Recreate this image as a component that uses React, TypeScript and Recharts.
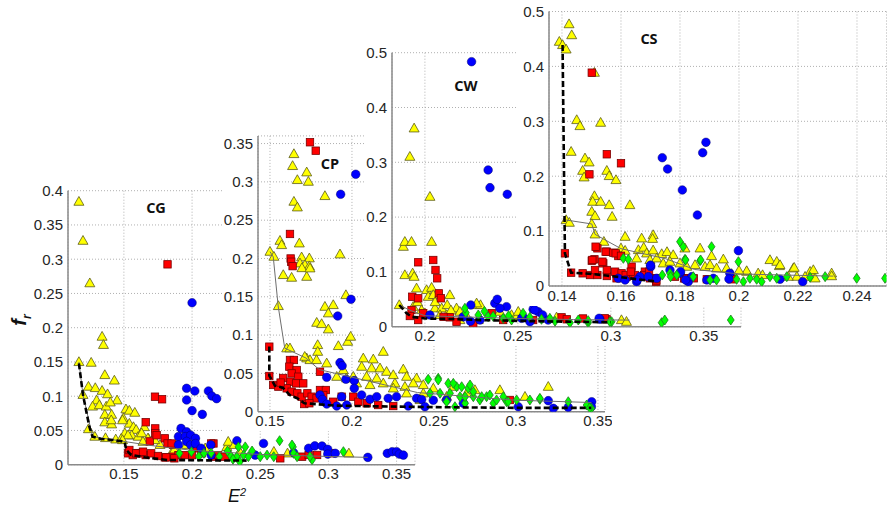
import React from 'react';
import { ScatterChart, Scatter, XAxis, YAxis, CartesianGrid } from 'recharts';

type Pt = [number, number];

// ---------- CG ----------
const cgYellow: Pt[] = [
  [0.117, 0.384], [0.120, 0.327], [0.125, 0.265], [0.134, 0.187], [0.135, 0.175], [0.117, 0.150],
  [0.126, 0.149], [0.136, 0.131], [0.143, 0.123], [0.120, 0.102], [0.124, 0.114], [0.129, 0.112],
  [0.134, 0.108], [0.138, 0.103], [0.145, 0.094], [0.130, 0.094], [0.127, 0.085], [0.132, 0.087],
  [0.137, 0.085], [0.140, 0.091], [0.136, 0.073], [0.141, 0.073], [0.136, 0.062], [0.141, 0.059],
  [0.124, 0.052], [0.1515, 0.081], [0.154, 0.079], [0.158, 0.076], [0.1495, 0.068], [0.154, 0.060],
  [0.157, 0.055], [0.159, 0.051], [0.165, 0.055], [0.1507, 0.046], [0.1557, 0.043], [0.1605, 0.041],
  [0.163, 0.046], [0.168, 0.038], [0.1765, 0.029], [0.186, 0.021], [0.196, 0.029], [0.2096, 0.024],
  [0.2255, 0.026], [0.235, 0.019], [0.260, 0.019], [0.270, 0.0166], [0.315, 0.0166], [0.1287, 0.041],
  [0.1365, 0.039], [0.144, 0.037], [0.148, 0.038], [0.1407, 0.065], [0.149, 0.065], [0.153, 0.043],
  [0.1676, 0.0385], [0.1726, 0.036], [0.164, 0.0336], [0.149, 0.036], [0.187, 0.0215], [0.2265, 0.0336],
  [0.231, 0.029],
];
const cgRed: Pt[] = [
  [0.182, 0.2925], [0.1728, 0.0993], [0.178, 0.0955], [0.166, 0.062], [0.173, 0.053], [0.173, 0.046],
  [0.180, 0.0385], [0.182, 0.031], [0.186, 0.029], [0.202, 0.024], [0.207, 0.020], [0.2157, 0.031],
  [0.153, 0.0166], [0.1565, 0.014], [0.160, 0.017], [0.163, 0.0166], [0.166, 0.014], [0.180, 0.0107],
  [0.186, 0.0117], [0.190, 0.014], [0.200, 0.014], [0.2157, 0.0117], [0.2647, 0.0093], [0.2807, 0.0117],
  [0.2855, 0.0142], [0.2917, 0.0142], [0.3015, 0.0166], [0.169, 0.034], [0.185, 0.031], [0.154, 0.0215],
  [0.159, 0.0166], [0.164, 0.019], [0.170, 0.0166], [0.175, 0.0127], [0.181, 0.0107], [0.187, 0.0093],
  [0.1946, 0.014], [0.207, 0.0166], [0.214, 0.031], [0.219, 0.014], [0.224, 0.0117], [0.174, 0.043],
];
const cgBlue: Pt[] = [
  [0.200, 0.2365], [0.196, 0.1115], [0.202, 0.1076], [0.196, 0.0945], [0.212, 0.1076], [0.2145, 0.1003],
  [0.218, 0.0964], [0.200, 0.079], [0.2075, 0.0735], [0.1919, 0.053], [0.196, 0.048], [0.190, 0.041],
  [0.195, 0.041], [0.199, 0.043], [0.2025, 0.0385], [0.190, 0.029], [0.196, 0.034], [0.199, 0.029],
  [0.2025, 0.031], [0.2066, 0.024], [0.2137, 0.029], [0.214, 0.014], [0.2329, 0.035], [0.2463, 0.014],
  [0.2524, 0.031], [0.2745, 0.0175], [0.2855, 0.024], [0.290, 0.0275], [0.2953, 0.0273], [0.2995, 0.0225],
  [0.2995, 0.0155], [0.305, 0.0166], [0.3289, 0.0107], [0.3432, 0.0166], [0.3468, 0.019], [0.350, 0.019],
  [0.352, 0.0155], [0.355, 0.014],
];
const cgGreen: Pt[] = [
  [0.2642, 0.035], [0.1907, 0.0166], [0.1995, 0.019], [0.2087, 0.0166], [0.214, 0.017], [0.234, 0.026],
  [0.239, 0.026], [0.2328, 0.0117], [0.2377, 0.014], [0.2413, 0.0117], [0.235, 0.0044], [0.250, 0.0117],
  [0.255, 0.014], [0.2599, 0.0117], [0.274, 0.026], [0.2745, 0.0166], [0.277, 0.0117], [0.288, 0.0073],
  [0.311, 0.019], [0.2733, 0.0288], [0.2865, 0.012], [0.228, 0.014], [0.244, 0.020], [0.226, 0.020],
  [0.230, 0.008], [0.220, 0.012], [0.205, 0.012],
];
const cgFront: Pt[] = [
  [0.117, 0.148], [0.120, 0.102], [0.1222, 0.080], [0.1247, 0.055], [0.127, 0.041], [0.1333, 0.0375],
  [0.142, 0.036], [0.1505, 0.0336], [0.1517, 0.0215], [0.1554, 0.0142], [0.165, 0.0108], [0.182, 0.0069],
  [0.200, 0.0065], [0.240, 0.006],
];
const cgThin: Pt[] = [
  [0.117, 0.150], [0.120, 0.102], [0.127, 0.041], [0.150, 0.034], [0.170, 0.028], [0.200, 0.021],
  [0.250, 0.015], [0.300, 0.012], [0.3289, 0.0107],
];

// ---------- CP ----------
const cpYellow: Pt[] = [
  [0.1646, 0.3364], [0.1638, 0.3208], [0.1667, 0.3025], [0.1724, 0.3125], [0.1734, 0.3003], [0.1835, 0.2816],
  [0.1646, 0.2742], [0.1667, 0.2668], [0.1561, 0.2232], [0.1571, 0.2176], [0.1679, 0.2198], [0.150, 0.2089],
  [0.1524, 0.2024], [0.1581, 0.1785], [0.1632, 0.175], [0.1693, 0.2016], [0.174, 0.2003], [0.1683, 0.1937],
  [0.1713, 0.1915], [0.174, 0.190], [0.1695, 0.1875], [0.1724, 0.1762], [0.1744, 0.1872], [0.1927, 0.2055],
  [0.1963, 0.1523], [0.1551, 0.138], [0.1835, 0.1371], [0.1886, 0.1393], [0.1856, 0.1285], [0.1785, 0.1162],
  [0.1815, 0.1145], [0.1856, 0.1076], [0.1917, 0.0858], [0.1974, 0.0914], [0.1992, 0.098], [0.1602, 0.0828],
  [0.1622, 0.0828], [0.1791, 0.0871], [0.1791, 0.0783], [0.1724, 0.0697], [0.1744, 0.0675], [0.1784, 0.0675],
  [0.1846, 0.0632], [0.1907, 0.0457], [0.2069, 0.0697], [0.213, 0.0684], [0.2191, 0.0783], [0.2059, 0.0588],
  [0.212, 0.0567], [0.2171, 0.0567], [0.2089, 0.0457], [0.2151, 0.0436], [0.2211, 0.0522], [0.2252, 0.0479],
  [0.2313, 0.0553], [0.2333, 0.0457], [0.2394, 0.0436], [0.2262, 0.0371], [0.2323, 0.0326], [0.2374, 0.0371],
  [0.2435, 0.0349], [0.2496, 0.0305], [0.2618, 0.0326], [0.2699, 0.024], [0.275, 0.0283], [0.2902, 0.0283],
  [0.3055, 0.0196], [0.3197, 0.0326], [0.2577, 0.0196], [0.2435, 0.024], [0.2415, 0.0153], [0.2333, 0.024],
  [0.2252, 0.0305], [0.2191, 0.0371], [0.2008, 0.0457], [0.1947, 0.0544], [0.2028, 0.0371], [0.211, 0.0349],
  [0.1967, 0.0436], [0.1712, 0.0718],
];
const cpRed: Pt[] = [
  [0.1744, 0.3517], [0.1779, 0.3407], [0.1622, 0.232], [0.1626, 0.200], [0.163, 0.1958], [0.1638, 0.190],
  [0.1496, 0.0849], [0.1496, 0.0466], [0.152, 0.0349], [0.1551, 0.0327], [0.1622, 0.0675], [0.1646, 0.0675],
  [0.1618, 0.0588], [0.1663, 0.0544], [0.1632, 0.050], [0.1673, 0.0457], [0.1622, 0.0392], [0.1659, 0.037],
  [0.1703, 0.037], [0.1602, 0.0305], [0.1632, 0.0261], [0.1667, 0.024], [0.1693, 0.0196], [0.1728, 0.024],
  [0.1754, 0.0196], [0.1784, 0.0174], [0.1805, 0.0283], [0.1841, 0.0283], [0.1825, 0.0218], [0.1709, 0.0100],
  [0.174, 0.011], [0.1805, 0.0522], [0.1886, 0.013], [0.1937, 0.0196], [0.2008, 0.0196], [0.2039, 0.013],
  [0.209, 0.011], [0.216, 0.0087], [0.2252, 0.0074], [0.2963, 0.0153], [0.158, 0.044], [0.1565, 0.038],
];
const cpBlue: Pt[] = [
  [0.2023, 0.3099], [0.1931, 0.2838], [0.1994, 0.1467], [0.1913, 0.1249], [0.1927, 0.064], [0.194, 0.060],
  [0.1846, 0.0449], [0.1963, 0.0423], [0.2014, 0.0405], [0.2014, 0.0305], [0.1805, 0.0218], [0.182, 0.016],
  [0.1846, 0.010], [0.1907, 0.0074], [0.1937, 0.0196], [0.1968, 0.0087], [0.2059, 0.0218], [0.211, 0.0162],
  [0.2151, 0.0196], [0.2221, 0.0175], [0.2272, 0.0196], [0.2343, 0.0074], [0.2394, 0.0175], [0.2425, 0.016],
  [0.2445, 0.0065], [0.2496, 0.015], [0.3197, 0.0144], [0.3462, 0.013], [0.346, 0.0065], [0.3228, 0.0044],
  [0.3319, 0.0057], [0.3014, 0.0065], [0.2679, 0.011], [0.2577, 0.0153],
];
const cpGreen: Pt[] = [
  [0.2465, 0.0423], [0.2526, 0.0436], [0.2587, 0.037], [0.2638, 0.0326], [0.2476, 0.024], [0.2537, 0.024],
  [0.2598, 0.024], [0.2659, 0.0196], [0.2709, 0.0305], [0.274, 0.0196], [0.278, 0.0153], [0.2821, 0.0196],
  [0.2862, 0.011], [0.2943, 0.013], [0.3146, 0.0162], [0.3319, 0.013], [0.346, 0.0044], [0.2577, 0.013],
  [0.269, 0.011], [0.2628, 0.0065], [0.2526, 0.0414], [0.2618, 0.037], [0.2669, 0.0326], [0.272, 0.0349],
  [0.274, 0.0261], [0.269, 0.0196], [0.2791, 0.0196], [0.2841, 0.0218], [0.2882, 0.0153], [0.2923, 0.0196],
  [0.2953, 0.013], [0.3004, 0.0153], [0.3085, 0.0153], [0.3146, 0.0174], [0.3431, 0.0087], [0.345, 0.005],
];
const cpFront: Pt[] = [
  [0.1496, 0.085], [0.1496, 0.047], [0.153, 0.034], [0.158, 0.031], [0.162, 0.022], [0.167, 0.017],
  [0.171, 0.011], [0.190, 0.008], [0.215, 0.007], [0.250, 0.006], [0.300, 0.005], [0.346, 0.005],
];
const cpThin: Pt[] = [
  [0.150, 0.209], [0.152, 0.202], [0.155, 0.138], [0.159, 0.083], [0.172, 0.070], [0.180, 0.055],
  [0.200, 0.045], [0.220, 0.035], [0.240, 0.025], [0.270, 0.020], [0.300, 0.015], [0.346, 0.012],
];

// ---------- CW ----------
const cwYellow: Pt[] = [
  [0.1942, 0.362], [0.1919, 0.3102], [0.2027, 0.2372], [0.1884, 0.146], [0.1892, 0.155], [0.1928, 0.155],
  [0.2036, 0.155], [0.1892, 0.0943], [0.1934, 0.0974], [0.1942, 0.0912], [0.1955, 0.070], [0.2009, 0.067],
  [0.2036, 0.0712], [0.2018, 0.0547], [0.2045, 0.058], [0.2134, 0.0578], [0.1862, 0.0396], [0.1937, 0.0365],
  [0.1982, 0.0304], [0.200, 0.0245], [0.2054, 0.0336], [0.209, 0.0336], [0.212, 0.0396], [0.217, 0.0336],
  [0.2188, 0.0274], [0.2278, 0.0396], [0.2299, 0.0396], [0.2081, 0.0214], [0.2117, 0.0214], [0.2188, 0.0122],
  [0.2287, 0.0122], [0.2403, 0.0274], [0.2466, 0.0214], [0.2493, 0.0183], [0.2708, 0.0171], [0.3057, 0.0122],
  [0.3084, 0.0091], [0.2278, 0.0427], [0.2502, 0.0274], [0.196, 0.045], [0.2055, 0.045], [0.214, 0.030],
  [0.222, 0.022],
];
const cwRed: Pt[] = [
  [0.1964, 0.1175], [0.2045, 0.1217], [0.2057, 0.1035], [0.2066, 0.0883], [0.1932, 0.0547], [0.1964, 0.0518],
  [0.2075, 0.0609], [0.2086, 0.0518], [0.1928, 0.0304], [0.1919, 0.0195], [0.1964, 0.0122], [0.1991, 0.0245],
  [0.2134, 0.0171], [0.217, 0.0091], [0.226, 0.0062], [0.2421, 0.0122], [0.2582, 0.0122], [0.2735, 0.0171],
  [0.2763, 0.0135], [0.2977, 0.0135], [0.285, 0.015], [0.2359, 0.0245], [0.210, 0.018], [0.2968, 0.0153],
];
const cwBlue: Pt[] = [
  [0.2251, 0.4836], [0.234, 0.286], [0.235, 0.2537], [0.2443, 0.2416], [0.2247, 0.0396], [0.2376, 0.0427],
  [0.2389, 0.050], [0.2439, 0.0365], [0.2403, 0.0336], [0.2582, 0.0318], [0.2609, 0.0274], [0.2633, 0.0214],
  [0.2528, 0.0183], [0.2565, 0.0091], [0.2663, 0.0122], [0.2941, 0.0135], [0.2027, 0.0214], [0.2245, 0.010],
  [0.2591, 0.0305], [0.252, 0.0153], [0.2206, 0.018], [0.2296, 0.0122], [0.2937, 0.0153],
];
const cwGreen: Pt[] = [
  [0.222, 0.0256], [0.2287, 0.0214], [0.234, 0.0183], [0.2367, 0.019], [0.2421, 0.0153], [0.2466, 0.0122],
  [0.2528, 0.0245], [0.2564, 0.0171], [0.2627, 0.0135], [0.2672, 0.0153], [0.278, 0.0073], [0.2825, 0.0122],
  [0.2878, 0.0073], [0.3004, 0.0091], [0.3273, 0.0073], [0.329, 0.0122], [0.3645, 0.0122], [0.2215, 0.0336],
  [0.2878, 0.011], [0.2995, 0.0091], [0.232, 0.028], [0.245, 0.020], [0.270, 0.010],
];
const cwFront: Pt[] = [
  [0.1862, 0.0396], [0.190, 0.025], [0.193, 0.018], [0.200, 0.015], [0.215, 0.014], [0.230, 0.012],
  [0.260, 0.010], [0.300, 0.008],
];
const cwThin: Pt[] = [
  [0.1862, 0.0396], [0.192, 0.030], [0.200, 0.020], [0.220, 0.018], [0.250, 0.015], [0.280, 0.013],
  [0.310, 0.012],
];

// ---------- CS ----------
const csYellow: Pt[] = [
  [0.1391, 0.445], [0.1402, 0.439], [0.1414, 0.431], [0.1424, 0.477], [0.1433, 0.457], [0.151, 0.3886],
  [0.145, 0.3024], [0.1461, 0.2914], [0.1531, 0.2975], [0.1431, 0.2446], [0.1478, 0.2326], [0.1492, 0.2253],
  [0.147, 0.210], [0.1475, 0.198], [0.1552, 0.210], [0.156, 0.2004], [0.1583, 0.1931], [0.151, 0.1639],
  [0.1504, 0.1536], [0.1531, 0.1536], [0.156, 0.1475], [0.163, 0.1475], [0.1501, 0.1354], [0.1512, 0.1275],
  [0.157, 0.1263], [0.1414, 0.1202], [0.1425, 0.1154], [0.1501, 0.113], [0.1512, 0.0941], [0.1542, 0.0807],
  [0.1614, 0.0898], [0.167, 0.0868], [0.1709, 0.0929], [0.1707, 0.086], [0.160, 0.0686], [0.1614, 0.0644],
  [0.1659, 0.0656], [0.1677, 0.070], [0.1687, 0.0595], [0.1709, 0.065], [0.1738, 0.0583], [0.1756, 0.062],
  [0.1777, 0.0565], [0.1817, 0.0686], [0.1868, 0.0686], [0.1907, 0.0546], [0.1947, 0.0486], [0.1653, 0.0504],
  [0.1698, 0.0474], [0.1721, 0.0504], [0.1743, 0.0413], [0.1766, 0.0443], [0.180, 0.0413], [0.1823, 0.0352],
  [0.1851, 0.0383], [0.1885, 0.0352], [0.1902, 0.0383], [0.1924, 0.0322], [0.1958, 0.0322], [0.2026, 0.0261],
  [0.2065, 0.0231], [0.2105, 0.0474], [0.2128, 0.0443], [0.2137, 0.0364], [0.2184, 0.0322], [0.2241, 0.0261],
  [0.2252, 0.0291], [0.2314, 0.0231], [0.2314, 0.018], [0.2224, 0.017], [0.2196, 0.017], [0.2167, 0.017],
  [0.2258, 0.014], [0.2026, 0.0273], [0.2139, 0.0383], [0.2187, 0.0334], [0.1975, 0.022], [0.200, 0.028],
  [0.208, 0.020],
];
const csRed: Pt[] = [
  [0.1501, 0.3886], [0.1552, 0.2399], [0.160, 0.2235], [0.1493, 0.2034], [0.141, 0.0595], [0.1431, 0.0243],
  [0.147, 0.0231], [0.1495, 0.020], [0.152, 0.020], [0.1552, 0.0182], [0.1585, 0.014], [0.152, 0.0686],
  [0.1501, 0.046], [0.151, 0.0486], [0.154, 0.0413], [0.1552, 0.0625], [0.1574, 0.0607], [0.1591, 0.0546],
  [0.1512, 0.0291], [0.1552, 0.0291], [0.158, 0.0261], [0.1602, 0.0231], [0.1619, 0.017], [0.1636, 0.0352],
  [0.1647, 0.020], [0.1676, 0.017], [0.1681, 0.0261], [0.1698, 0.014], [0.1719, 0.0078], [0.172, 0.010],
  [0.1783, 0.017], [0.1817, 0.014], [0.1891, 0.0122], [0.1975, 0.0122], [0.1514, 0.0716], [0.1548, 0.0625],
  [0.1503, 0.0474], [0.1537, 0.0443], [0.1582, 0.0595], [0.160, 0.055], [0.1616, 0.020], [0.1633, 0.0261],
  [0.1678, 0.020], [0.1695, 0.026], [0.1718, 0.014], [0.1814, 0.014], [0.1847, 0.014],
];
const csBlue: Pt[] = [
  [0.174, 0.2337], [0.1758, 0.2131], [0.1808, 0.1749], [0.1888, 0.2617], [0.1877, 0.2428], [0.1859, 0.1293],
  [0.1998, 0.0644], [0.1701, 0.0352], [0.1591, 0.014], [0.1614, 0.0109], [0.1653, 0.0078], [0.1664, 0.017],
  [0.1693, 0.017], [0.1721, 0.014], [0.1766, 0.0291], [0.180, 0.0231], [0.1828, 0.0078], [0.184, 0.017],
  [0.1913, 0.014], [0.1969, 0.0231], [0.2139, 0.0122], [0.2216, 0.0078], [0.1655, 0.011], [0.170, 0.038],
  [0.1802, 0.026], [0.1819, 0.011], [0.1891, 0.011], [0.1966, 0.0128],
];
const csGreen: Pt[] = [
  [0.180, 0.0807], [0.1811, 0.0716], [0.1817, 0.0486], [0.1907, 0.0716], [0.1998, 0.0443], [0.1868, 0.046],
  [0.1608, 0.0504], [0.1625, 0.0486], [0.1766, 0.0231], [0.1789, 0.020], [0.1845, 0.017], [0.1902, 0.0109],
  [0.1924, 0.0109], [0.1992, 0.0122], [0.2015, 0.0078], [0.2037, 0.014], [0.206, 0.0122], [0.2077, 0.0078],
  [0.2105, 0.017], [0.2128, 0.014], [0.2162, 0.017], [0.2241, 0.0158], [0.2292, 0.017], [0.2399, 0.014],
  [0.2495, 0.014], [0.174, 0.020], [0.1768, 0.017], [0.187, 0.0474], [0.1819, 0.0474],
];
const csFront: Pt[] = [
  [0.1402, 0.439], [0.1406, 0.250], [0.141, 0.0595], [0.1431, 0.0243], [0.150, 0.022], [0.155, 0.019],
  [0.160, 0.016], [0.166, 0.012], [0.172, 0.008],
];
const csThin: Pt[] = [
  [0.1414, 0.1202], [0.1501, 0.113], [0.1512, 0.0941], [0.160, 0.068], [0.175, 0.050], [0.185, 0.030],
  [0.200, 0.022], [0.215, 0.020], [0.232, 0.018],
];

// tick values
const cgXTicks = [0.15, 0.2, 0.25, 0.3, 0.35];
const cgYTicks = [0, 0.05, 0.1, 0.15, 0.2, 0.25, 0.3, 0.35, 0.4];
const cpXTicks = [0.15, 0.2, 0.25, 0.3, 0.35];
const cpYTicks = [0, 0.05, 0.1, 0.15, 0.2, 0.25, 0.3, 0.35];
const cwXTicks = [0.2, 0.25, 0.3, 0.35];
const cwYTicks = [0, 0.1, 0.2, 0.3, 0.4, 0.5];
const csXTicks = [0.14, 0.16, 0.18, 0.2, 0.22, 0.24];
const csYTicks = [0, 0.1, 0.2, 0.3, 0.4, 0.5];

const toXY = (pts: Pt[]) => pts.map(([x, y]) => ({ x, y }));
const fmt = (v: number) => String(+v.toFixed(3));

const Tri = (p: any) => (
  <polygon
    points={`${p.cx},${p.cy - 5.2} ${p.cx - 5},${p.cy + 3.6} ${p.cx + 5},${p.cy + 3.6}`}
    fill="#ffff00" stroke="#5c5c1a" strokeWidth={0.8}
  />
);
const Sq = (p: any) => (
  <rect x={p.cx - 3.7} y={p.cy - 3.7} width={7.4} height={7.4} fill="#ff0000" stroke="#7a0000" strokeWidth={0.8} />
);
const Dot = (p: any) => <circle cx={p.cx} cy={p.cy} r={4.3} fill="#0000ff" stroke="#00006e" strokeWidth={0.5} />;
const Dia = (p: any) => (
  <polygon
    points={`${p.cx},${p.cy - 5} ${p.cx + 3.4},${p.cy} ${p.cx},${p.cy + 5} ${p.cx - 3.4},${p.cy}`}
    fill="#00ff00" stroke="#1f7a1f" strokeWidth={0.8}
  />
);
const NoMark = () => <g />;

const tickStyle = { fontFamily: '"Liberation Sans", Arial, sans-serif', fontSize: 15, fill: '#262626' };
const axisStyle = { stroke: '#8a8a8a', strokeWidth: 1.5 };

type Box = { l: number; t: number; r: number; b: number };

interface PanelProps {
  box: Box;
  plot: Box;
  xDomain: [number, number];
  yDomain: [number, number];
  xTicks: number[];
  yTicks: number[];
  yellow: Pt[];
  red: Pt[];
  blue: Pt[];
  green: Pt[];
  front: Pt[];
  thin: Pt[];
  title: string;
  titleAt: [number, number];
}

function Panel(props: PanelProps) {
  const { box, plot } = props;
  const w = box.r - box.l;
  const h = box.b - box.t;
  return (
    <div style={{ position: 'absolute', left: box.l, top: box.t, width: w, height: h, background: '#fff' }}>
      <ScatterChart
        width={w}
        height={h}
        margin={{ top: plot.t - box.t, right: box.r - plot.r, bottom: 0, left: 0 }}
      >
        <CartesianGrid stroke="#b0b0b0" strokeDasharray="1 2" />
        <XAxis
          type="number" dataKey="x" domain={props.xDomain} ticks={props.xTicks} allowDataOverflow
          height={box.b - plot.b} interval={0} tickLine={false} tickSize={0} tickMargin={4}
          axisLine={axisStyle} tick={tickStyle} tickFormatter={fmt}
        />
        <YAxis
          type="number" dataKey="y" domain={props.yDomain} ticks={props.yTicks} allowDataOverflow
          width={plot.l - box.l} interval={0} tickLine={false} tickSize={0} tickMargin={5}
          axisLine={axisStyle} tick={tickStyle} tickFormatter={fmt}
        />
        <Scatter data={toXY(props.yellow)} shape={Tri} isAnimationActive={false} />
        <Scatter data={toXY(props.red)} shape={Sq} isAnimationActive={false} />
        <Scatter data={toXY(props.blue)} shape={Dot} isAnimationActive={false} />
        <Scatter data={toXY(props.green)} shape={Dia} isAnimationActive={false} />
        <Scatter
          data={toXY(props.thin)} shape={NoMark} isAnimationActive={false}
          line={{ stroke: '#6e6e6e', strokeWidth: 1 }}
        />
        <Scatter
          data={toXY(props.front)} shape={NoMark} isAnimationActive={false}
          line={{ stroke: '#000', strokeWidth: 2.6, strokeDasharray: '6 3' }}
        />
      </ScatterChart>
      <div
        style={{
          position: 'absolute', left: props.titleAt[0] - box.l - 30, top: props.titleAt[1] - box.t - 10,
          width: 60, textAlign: 'center', lineHeight: '20px',
          fontFamily: '"Open Sans", sans-serif', fontWeight: 700, fontSize: 14.5, color: '#111',
        }}
      >
        {props.title}
      </div>
    </div>
  );
}

export default function App() {
  return (
    <div style={{ position: 'absolute', left: 0, top: 0, width: 891, height: 506, background: '#fff', overflow: 'hidden' }}>
      <Panel
        box={{ l: 0, t: 172, r: 430, b: 485 }} plot={{ l: 68, t: 190.7, r: 415, b: 464.7 }}
        xDomain={[0.109, 0.3635]} yDomain={[0, 0.4]} xTicks={cgXTicks} yTicks={cgYTicks}
        yellow={cgYellow} red={cgRed} blue={cgBlue} green={cgGreen} front={cgFront} thin={cgThin}
        title="CG" titleAt={[156, 208]}
      />
      <div
        style={{
          position: 'absolute', left: 19 - 15, top: 320 - 12, width: 30, height: 24,
          transform: 'rotate(-90deg)', textAlign: 'center', lineHeight: '24px',
          fontFamily: '"Liberation Sans", Arial, sans-serif', fontStyle: 'italic', fontWeight: 700, fontSize: 20, color: '#111',
        }}
      >
        f<sub style={{ fontSize: 12 }}>r</sub>
      </div>
      <div
        style={{
          position: 'absolute', left: 218, top: 486, width: 38, height: 20,
          textAlign: 'center', lineHeight: '20px',
          fontFamily: '"Liberation Sans", Arial, sans-serif', fontStyle: 'italic', fontSize: 18, color: '#111',
        }}
      >
        E<span style={{ fontSize: 11, verticalAlign: 'top', lineHeight: '12px' }}>2</span>
      </div>
      <Panel
        box={{ l: 222, t: 128, r: 612, b: 431 }} plot={{ l: 258, t: 135.9, r: 605, b: 411.7 }}
        xDomain={[0.1427, 0.3543]} yDomain={[0, 0.36]} xTicks={cpXTicks} yTicks={cpYTicks}
        yellow={cpYellow} red={cpRed} blue={cpBlue} green={cpGreen} front={cpFront} thin={cpThin}
        title="CP" titleAt={[330, 164]}
      />
      <Panel
        box={{ l: 366, t: 40, r: 750, b: 346 }} plot={{ l: 392, t: 52.7, r: 741, b: 326.7 }}
        xDomain={[0.1823, 0.37]} yDomain={[0, 0.5]} xTicks={cwXTicks} yTicks={cwYTicks}
        yellow={cwYellow} red={cwRed} blue={cwBlue} green={cwGreen} front={cwFront} thin={cwThin}
        title="CW" titleAt={[466, 86]}
      />
      <Panel
        box={{ l: 516, t: 0, r: 891, b: 306 }} plot={{ l: 549, t: 11.5, r: 886.5, b: 286 }}
        xDomain={[0.1356, 0.25]} yDomain={[0, 0.5]} xTicks={csXTicks} yTicks={csYTicks}
        yellow={csYellow} red={csRed} blue={csBlue} green={csGreen} front={csFront} thin={csThin}
        title="CS" titleAt={[649, 39]}
      />
    </div>
  );
}
